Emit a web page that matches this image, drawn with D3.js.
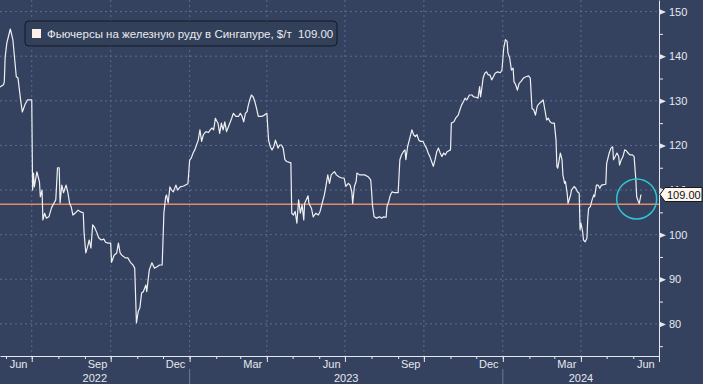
<!DOCTYPE html>
<html>
<head>
<meta charset="utf-8">
<script src="https://cdn.jsdelivr.net/npm/d3@7"></script>
<style>
  body { margin: 0; background: #344260; }
  svg { display: block; font-family: "Liberation Sans", Arial, sans-serif; }
</style>
</head>
<body>
<svg id="chart" width="703" height="384"></svg>
<script>
// price points, [date, $/t]
const prices2022 = [
  ["2022-05-25",133.1],["2022-05-29",133.6],["2022-05-30",134.2],["2022-05-31",139.8],["2022-06-02",143.0],
  ["2022-06-06",146.1],["2022-06-09",143.7],["2022-06-13",135.4],["2022-06-15",135.1],["2022-06-18",130.2],
  ["2022-06-20",127.5],["2022-06-23",129.1],["2022-06-26",130.2],["2022-07-01",130.2],["2022-07-02",110.0],
  ["2022-07-03",113.8],["2022-07-04",110.7],["2022-07-07",114.1],["2022-07-10",111.8],["2022-07-11",108.5],
  ["2022-07-13",110.0],["2022-07-14",103.3],["2022-07-16",104.8],["2022-07-18",103.7],["2022-07-21",104.0],
  ["2022-07-24",106.0],["2022-07-27",107.1],["2022-07-29",107.8],["2022-07-31",115.0],["2022-08-02",115.0],
  ["2022-08-03",107.1],["2022-08-05",111.1],["2022-08-07",109.4],["2022-08-10",111.1],["2022-08-12",109.6],
  ["2022-08-14",107.1],["2022-08-16",106.2],["2022-08-18",104.4],["2022-08-21",104.9],["2022-08-24",105.5],
  ["2022-08-27",105.1],["2022-08-30",104.9],["2022-08-31",100.4],["2022-09-02",95.9],["2022-09-04",97.2],
  ["2022-09-06",98.8],["2022-09-08",97.0],["2022-09-10",102.2],["2022-09-12",101.7],["2022-09-15",100.4],
  ["2022-09-17",99.3],["2022-09-20",98.8],["2022-09-23",99.0],["2022-09-25",98.3],["2022-09-28",98.1],
  ["2022-10-01",98.1],["2022-10-02",93.8],["2022-10-05",95.4],["2022-10-08",95.9],["2022-10-10",98.1],
  ["2022-10-12",95.9],["2022-10-14",95.4],["2022-10-18",94.8],["2022-10-21",94.8],["2022-10-24",93.8],
  ["2022-10-27",93.2],["2022-10-29",92.5],["2022-10-31",80.2],["2022-11-02",82.7],["2022-11-04",83.6],
  ["2022-11-06",86.9],["2022-11-08",87.2],["2022-11-11",88.7],["2022-11-12",87.2],["2022-11-15",92.1],
  ["2022-11-18",93.7],["2022-11-21",92.5],["2022-11-24",92.8],["2022-11-27",93.2],["2022-11-30",93.2],
  ["2022-12-02",104.8],["2022-12-04",108.4],["2022-12-05",108.9],["2022-12-07",107.1],["2022-12-09",110.7],
  ["2022-12-11",110.0],["2022-12-13",109.6],["2022-12-16",111.1],["2022-12-18",110.0],["2022-12-21",110.7],
  ["2022-12-25",110.9],["2022-12-30",111.4]
];
const prices2023 = [
  ["2023-01-01",116.7],["2023-01-03",117.2],["2023-01-05",118.3],["2023-01-07",119.0],["2023-01-09",120.1],
  ["2023-01-11",121.2],["2023-01-13",123.5],["2023-01-15",120.9],["2023-01-17",122.4],["2023-01-20",123.1],
  ["2023-01-23",122.9],["2023-01-25",123.5],["2023-01-27",123.9],["2023-01-29",123.5],["2023-01-31",126.1],
  ["2023-02-02",125.3],["2023-02-03",125.0],["2023-02-05",122.7],["2023-02-07",125.0],["2023-02-09",123.5],
  ["2023-02-11",125.3],["2023-02-13",123.1],["2023-02-16",124.6],["2023-02-19",126.1],["2023-02-21",127.2],
  ["2023-02-24",126.5],["2023-02-27",126.5],["2023-03-01",127.2],["2023-03-03",126.6],["2023-03-05",125.3],
  ["2023-03-07",127.2],["2023-03-09",127.6],["2023-03-10",128.7],["2023-03-12",130.2],["2023-03-14",131.3],
  ["2023-03-16",130.9],["2023-03-18",129.8],["2023-03-20",128.3],["2023-03-22",126.5],["2023-03-26",126.5],
  ["2023-03-29",126.8],["2023-04-01",127.2],["2023-04-03",121.2],["2023-04-05",119.7],["2023-04-07",119.0],
  ["2023-04-09",119.7],["2023-04-11",121.2],["2023-04-13",120.1],["2023-04-14",119.4],["2023-04-16",120.1],
  ["2023-04-18",120.1],["2023-04-20",119.4],["2023-04-22",116.8],["2023-04-24",116.4],["2023-04-29",116.1],
  ["2023-04-30",104.8],["2023-05-02",104.4],["2023-05-04",105.2],["2023-05-06",102.6],["2023-05-08",107.8],
  ["2023-05-10",104.8],["2023-05-12",106.7],["2023-05-14",103.3],["2023-05-15",107.0],["2023-05-19",108.7],
  ["2023-05-20",107.0],["2023-05-23",105.9],["2023-05-25",104.0],["2023-05-28",104.8],["2023-05-31",104.4],
  ["2023-06-02",105.2],["2023-06-04",106.7],["2023-06-07",108.9],["2023-06-09",111.1],["2023-06-11",113.4],
  ["2023-06-13",111.5],["2023-06-15",113.4],["2023-06-17",113.8],["2023-06-19",114.1],["2023-06-21",113.4],
  ["2023-06-24",113.0],["2023-06-27",112.7],["2023-06-30",112.7],["2023-07-02",110.8],["2023-07-05",111.5],
  ["2023-07-07",111.1],["2023-07-09",109.6],["2023-07-10",107.0],["2023-07-12",110.8],["2023-07-14",111.9],
  ["2023-07-15",113.8],["2023-07-18",113.4],["2023-07-20",113.4],["2023-07-24",113.4],["2023-07-28",113.0],
  ["2023-07-31",112.3],["2023-08-01",110.0],["2023-08-02",106.7],["2023-08-04",104.0],["2023-08-07",103.7],
  ["2023-08-10",104.0],["2023-08-13",103.7],["2023-08-15",104.0],["2023-08-18",103.9],["2023-08-19",106.3],
  ["2023-08-21",107.4],["2023-08-23",108.9],["2023-08-25",109.6],["2023-08-28",109.4],["2023-09-01",109.4],
  ["2023-09-03",116.8],["2023-09-05",117.9],["2023-09-07",118.6],["2023-09-09",119.0],["2023-09-10",116.8],
  ["2023-09-12",119.7],["2023-09-14",121.2],["2023-09-17",123.5],["2023-09-19",122.4],["2023-09-21",122.0],
  ["2023-09-23",122.4],["2023-09-25",121.2],["2023-09-27",120.9],["2023-09-30",120.9],["2023-10-02",120.1],
  ["2023-10-04",119.4],["2023-10-06",118.3],["2023-10-08",117.5],["2023-10-10",116.4],["2023-10-12",115.3],
  ["2023-10-14",116.8],["2023-10-16",118.6],["2023-10-18",119.4],["2023-10-20",118.3],["2023-10-22",117.5],
  ["2023-10-24",118.3],["2023-10-26",117.9],["2023-10-28",118.6],["2023-11-01",119.0],["2023-11-02",125.0],
  ["2023-11-05",125.3],["2023-11-07",126.1],["2023-11-10",126.8],["2023-11-12",128.0],["2023-11-14",129.1],
  ["2023-11-16",129.8],["2023-11-18",130.6],["2023-11-20",130.2],["2023-11-23",131.3],["2023-11-26",131.3],
  ["2023-11-28",130.9],["2023-12-01",130.8],["2023-12-03",130.6],["2023-12-05",133.2],["2023-12-06",130.9],
  ["2023-12-07",132.1],["2023-12-09",135.1],["2023-12-11",136.2],["2023-12-13",136.5],["2023-12-15",135.8],
  ["2023-12-17",135.8],["2023-12-19",134.7],["2023-12-21",135.4],["2023-12-23",136.2],["2023-12-26",136.5],
  ["2023-12-29",136.3],["2023-12-31",136.9]
];
const prices2024 = [
  ["2024-01-02",141.8],["2024-01-04",143.7],["2024-01-06",143.3],["2024-01-07",140.7],["2024-01-09",139.6],
  ["2024-01-11",136.9],["2024-01-13",137.3],["2024-01-14",134.3],["2024-01-16",133.6],["2024-01-18",132.4],
  ["2024-01-20",133.9],["2024-01-22",134.3],["2024-01-25",135.1],["2024-01-28",135.4],["2024-01-31",135.6],
  ["2024-02-02",135.1],["2024-02-04",128.3],["2024-02-06",128.0],["2024-02-08",126.8],["2024-02-10",128.7],
  ["2024-02-11",129.1],["2024-02-13",129.5],["2024-02-15",129.8],["2024-02-17",130.2],["2024-02-19",128.0],
  ["2024-02-21",125.7],["2024-02-23",126.1],["2024-02-25",125.3],["2024-02-27",125.0],["2024-03-01",125.0],
  ["2024-03-03",121.2],["2024-03-04",115.3],["2024-03-05",114.9],["2024-03-07",117.1],["2024-03-08",118.3],
  ["2024-03-10",116.8],["2024-03-11",113.4],["2024-03-13",111.5],["2024-03-14",111.9],["2024-03-16",109.3],
  ["2024-03-17",107.0],["2024-03-20",108.9],["2024-03-21",110.0],["2024-03-24",110.8],["2024-03-26",110.4],
  ["2024-03-28",109.6],["2024-03-30",109.3],["2024-03-31",101.1],["2024-04-01",102.6],["2024-04-03",100.7],
  ["2024-04-04",98.8],["2024-04-06",98.4],["2024-04-08",99.2],["2024-04-09",103.7],["2024-04-10",105.9],
  ["2024-04-12",106.3],["2024-04-14",107.8],["2024-04-16",108.9],["2024-04-17",108.5],["2024-04-19",111.1],
  ["2024-04-21",111.1],["2024-04-23",110.4],["2024-04-25",111.1],["2024-04-30",111.3],["2024-05-01",116.0],
  ["2024-05-04",118.3],["2024-05-06",119.4],["2024-05-08",119.7],["2024-05-09",116.8],["2024-05-11",117.5],
  ["2024-05-13",118.3],["2024-05-15",117.5],["2024-05-16",115.6],["2024-05-18",116.8],["2024-05-20",117.5],
  ["2024-05-22",119.0],["2024-05-24",118.8],["2024-05-26",118.3],["2024-05-28",117.9],["2024-05-31",117.9],
  ["2024-06-02",117.5],["2024-06-04",112.3],["2024-06-05",108.5],["2024-06-07",107.4],["2024-06-08",107.0],
  ["2024-06-10",109.0]
];

const yTicks = [80, 90, 100, 110, 120, 130, 140, 150];
const yMinorTicks = [75, 85, 95, 105, 115, 125, 135, 145];
const monthLabelDates = ["2022-06-15","2022-09-15","2022-12-15","2023-03-15","2023-06-15",
                         "2023-09-15","2023-12-15","2024-03-15","2024-06-15"];
const years = ["2022", "2023", "2024"];
const seriesName = "Фьючерсы на железную руду в Сингапуре, $/т";
const lastValue = 109.00;
const refLevel = 106.8;
const circleAt = ["2024-06-05", 108.0];

const width = 703, height = 384;
const plotRight = 659, plotBottom = 356;
const parse = d3.timeParse("%Y-%m-%d");

const data = prices2022.concat(prices2023, prices2024).map(d => ({date: parse(d[0]), value: d[1]}));

const svg = d3.select("#chart");

svg.append("rect")
  .attr("width", width)
  .attr("height", height)
  .attr("fill", "#344260");

const x = d3.scaleTime()
  .domain([parse("2022-05-25"), parse("2024-07-01")])
  .range([0, plotRight]);

const y = d3.scaleLinear()
  .domain([72.8, 152.6])
  .range([plotBottom, 0]);

// grid
const quarters = x.ticks(d3.timeMonth.every(3)).filter(d => x(d) < plotRight - 1);

svg.append("g")
  .selectAll("line")
  .data(quarters)
  .enter()
  .append("line")
  .attr("x1", d => x(d)).attr("x2", d => x(d))
  .attr("y1", 0).attr("y2", plotBottom)
  .attr("stroke", "#5a6d90")
  .attr("stroke-dasharray", "2,3");

svg.append("g")
  .selectAll("line")
  .data(yTicks)
  .enter()
  .append("line")
  .attr("x1", 0).attr("x2", plotRight)
  .attr("y1", d => y(d)).attr("y2", d => y(d))
  .attr("stroke", "#5a6d90")
  .attr("stroke-dasharray", "2,3");

// reference level
svg.append("line")
  .attr("x1", 0).attr("x2", plotRight)
  .attr("y1", y(refLevel)).attr("y2", y(refLevel))
  .attr("stroke", "#e08c6c")
  .attr("stroke-width", 1.5);

// price line
const line = d3.line()
  .x(d => x(d.date))
  .y(d => y(d.value));

svg.append("path")
  .datum(data)
  .attr("d", line)
  .attr("fill", "none")
  .attr("stroke", "#f0f0f2")
  .attr("stroke-width", 1.2)
  .attr("stroke-linejoin", "round");

// highlight circle
svg.append("circle")
  .attr("cx", x(parse(circleAt[0])))
  .attr("cy", y(circleAt[1]))
  .attr("r", 20)
  .attr("fill", "none")
  .attr("stroke", "#2fc6d2")
  .attr("stroke-width", 1.5);

// bottom axis
const axisColor = "#e6e8ee";

const gxMinor = svg.append("g")
  .attr("transform", "translate(0," + plotBottom + ")")
  .call(d3.axisBottom(x).ticks(d3.timeMonth.every(1)).tickSize(3).tickSizeOuter(0).tickFormat(""));

const gxMajor = svg.append("g")
  .attr("transform", "translate(0," + plotBottom + ")")
  .call(d3.axisBottom(x).ticks(d3.timeMonth.every(3)).tickSize(6).tickFormat(""));
gxMajor.select(".domain").remove();

const gxLabels = svg.append("g")
  .attr("transform", "translate(0," + plotBottom + ")")
  .call(d3.axisBottom(x).tickValues(monthLabelDates.map(parse)).tickSize(0).tickPadding(4)
    .tickFormat(d3.timeFormat("%b")));
gxLabels.select(".domain").remove();

[gxMinor, gxMajor].forEach(g => {
  g.selectAll("line").attr("stroke", axisColor);
  g.selectAll(".domain").attr("stroke", axisColor);
});
gxLabels.selectAll("text").attr("fill", axisColor).style("font-size", "11px")
  .style("font-family", "'Liberation Sans', Arial, sans-serif");

// years
const xDomain = x.domain();
const yearSpans = years.map(yr => {
  const start = d3.max([parse(yr + "-01-01"), xDomain[0]]);
  const end = d3.min([parse((+yr + 1) + "-01-01"), xDomain[1]]);
  return {label: yr, start: start, end: end};
});

svg.append("g")
  .selectAll("text")
  .data(yearSpans)
  .enter()
  .append("text")
  .attr("x", d => (x(d.start) + x(d.end)) / 2)
  .attr("y", 382)
  .attr("text-anchor", "middle")
  .attr("fill", axisColor)
  .style("font-size", "11px")
  .text(d => d.label);

svg.append("g")
  .selectAll("line")
  .data(yearSpans.slice(1))
  .enter()
  .append("line")
  .attr("x1", d => x(d.start)).attr("x2", d => x(d.start))
  .attr("y1", 369).attr("y2", height)
  .attr("stroke", "#6a7a98");

// right axis
const gy = svg.append("g")
  .attr("transform", "translate(" + plotRight + ",0)")
  .call(d3.axisRight(y).tickValues(yTicks).tickSize(0).tickSizeOuter(0).tickPadding(10));
gy.select(".domain").attr("stroke", axisColor);
gy.selectAll("text").attr("fill", axisColor).style("font-size", "11px")
  .style("font-family", "'Liberation Sans', Arial, sans-serif");
gy.selectAll(".tick")
  .append("path")
  .attr("d", "M0,-3L7,0L0,3Z")
  .attr("fill", axisColor);

const gyMinor = svg.append("g")
  .attr("transform", "translate(" + plotRight + ",0)")
  .call(d3.axisRight(y).tickValues(yMinorTicks).tickSize(4).tickFormat(""));
gyMinor.select(".domain").remove();
gyMinor.selectAll("line").attr("stroke", axisColor);

// last value tag
const ly = y(lastValue);
svg.append("path")
  .attr("d", "M" + (plotRight + 1) + "," + ly + "L" + (plotRight + 6) + "," + (ly - 7) +
    "L702," + (ly - 7) + "L702," + (ly + 7) + "L" + (plotRight + 6) + "," + (ly + 7) + "Z")
  .attr("fill", "#fdf5ef")
  .attr("stroke", "#1a1a1a")
  .attr("stroke-width", 1);

svg.append("text")
  .attr("x", plotRight + 8)
  .attr("y", ly + 4)
  .attr("fill", "#111")
  .style("font-size", "11px")
  .text(d3.format(".2f")(lastValue));

// legend
const legend = svg.append("g").attr("transform", "translate(25,21)");
legend.append("rect")
  .attr("width", 312).attr("height", 25)
  .attr("rx", 4)
  .attr("fill", "#334059")
  .attr("stroke", "#121826");
legend.append("rect")
  .attr("x", 7).attr("y", 8)
  .attr("width", 9).attr("height", 9)
  .attr("fill", "#fff1ea");
legend.append("text")
  .attr("x", 22).attr("y", 17)
  .attr("fill", "#e8eaf0")
  .style("font-size", "11.5px")
  .style("white-space", "pre")
  .text(seriesName + "  " + d3.format(".2f")(lastValue));
</script>
</body>
</html>
